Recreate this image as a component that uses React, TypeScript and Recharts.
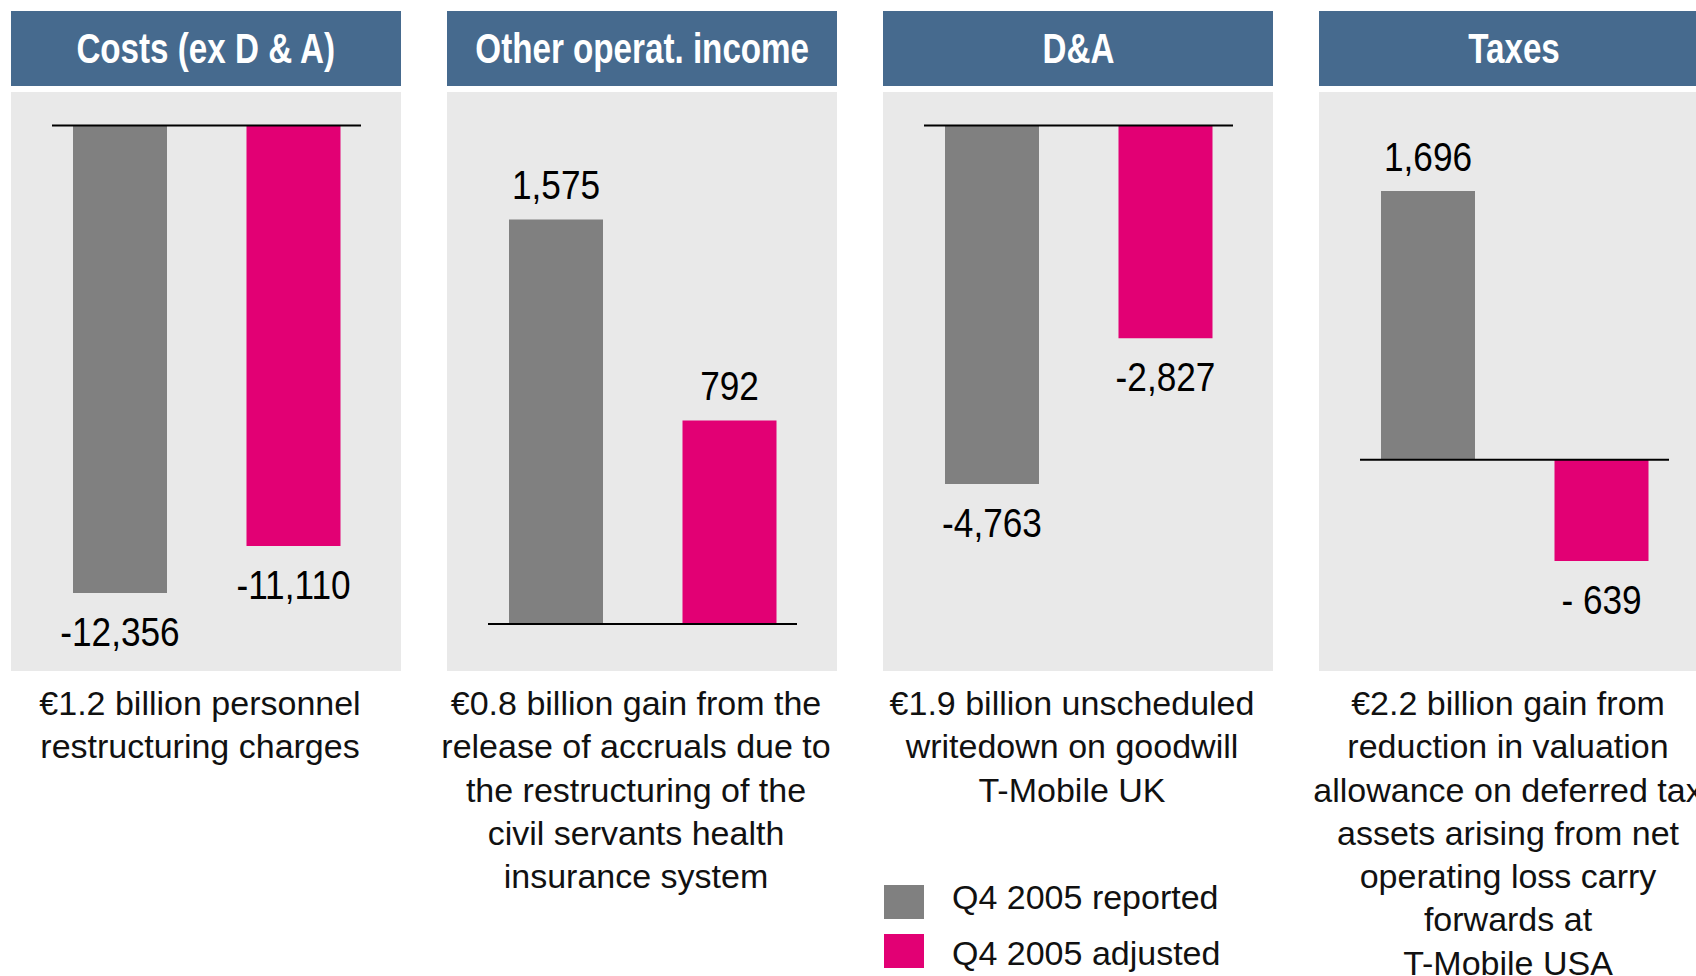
import React from "react";
import { BarChart, Bar, XAxis, YAxis, Cell, LabelList, ReferenceLine } from "recharts";

// ---------- data ----------
const panelTitles = ["Costs (ex D & A)", "Other operat. income", "D&A", "Taxes"];
const seriesNames = ["Q4 2005 reported", "Q4 2005 adjusted"];
const reportedValues = [-12356, 1575, -4763, 1696];
const adjustedValues = [-11110, 792, -2827, -639];
const reportedLabels = ["-12,356", "1,575", "-4,763", "1,696"];
const adjustedLabels = ["-11,110", "792", "-2,827", "- 639"];
const descriptions = [
  ["€1.2 billion personnel", "restructuring charges"],
  [
    "€0.8 billion gain from the",
    "release of accruals due to",
    "the restructuring of the",
    "civil servants health",
    "insurance system",
  ],
  ["€1.9 billion unscheduled", "writedown on goodwill", "T-Mobile UK"],
  [
    "€2.2 billion gain from",
    "reduction in valuation",
    "allowance on deferred tax",
    "assets arising from net",
    "operating loss carry",
    "forwards at",
    "T-Mobile USA",
  ],
];

// ---------- layout / style ----------
const COLORS = ["#808080", "#E20074"];
const HEADER_BG = "#466A8E";
const PANEL_BG = "#E9E9E9";
const PANEL_LEFTS = [11, 447, 883, 1319];
const PANEL_W = 390;
const PANEL_TOP = 92;
const PANEL_H = 579;
const yDomains: [number, number][] = [
  [-14000, 0],
  [0, 2000],
  [-7000, 0],
  [-1000, 2000],
];
const yMargins = [
  { top: 33.5, bottom: 15.7 },
  { top: 18.4, bottom: 47 },
  { top: 33.5, bottom: 18.5 },
  { top: 50.7, bottom: 52.8 },
];

const FONT = "'Liberation Sans', Arial, sans-serif";

function Panel({ i }: { i: number }) {
  const data = [
    { name: seriesNames[0], value: reportedValues[i], label: reportedLabels[i] },
    { name: seriesNames[1], value: adjustedValues[i], label: adjustedLabels[i] },
  ];
  const renderLabel = (p: any) => {
    const idx = p.index ?? 0;
    const d = data[idx];
    const y0 = Number(p.y);
    const h = Number(p.height);
    const positive = d.value >= 0;
    const end = positive ? Math.min(y0, y0 + h) : Math.max(y0, y0 + h);
    const cy = positive ? end - 34 : end + 39;
    const cx = Number(p.x) + Number(p.width) / 2;
    return (
      <g transform={`translate(${cx},${cy}) scale(0.88,1)`}>
        <text
          x={0}
          y={0}
          textAnchor="middle"
          dominantBaseline="central"
          fontSize={40}
          fontFamily={FONT}
          fill="#000"
        >
          {d.label}
        </text>
      </g>
    );
  };
  const zeroLine = (p: any) => (
    <line x1={p.x1 + 19} y1={p.y1} x2={p.x2 - 19} y2={p.y2} stroke="#000" strokeWidth={2} />
  );
  const left = PANEL_LEFTS[i];
  return (
    <>
      <div
        style={{
          position: "absolute",
          left,
          top: 11,
          width: PANEL_W,
          height: 75,
          background: HEADER_BG,
          color: "#fff",
          fontFamily: FONT,
          fontWeight: "bold",
          fontSize: 42,
          lineHeight: "75px",
          display: "flex",
          justifyContent: "center",
          whiteSpace: "nowrap",
        }}
      >
        <span style={{ display: "inline-block", flexShrink: 0, transform: "scaleX(0.79)" }}>
          {panelTitles[i]}
        </span>
      </div>
      <div
        style={{
          position: "absolute",
          left,
          top: PANEL_TOP,
          width: PANEL_W,
          height: PANEL_H,
          background: PANEL_BG,
        }}
      >
        <BarChart
          width={PANEL_W}
          height={PANEL_H}
          data={data}
          margin={{ top: yMargins[i].top, bottom: yMargins[i].bottom, left: 22, right: 21 }}
          barCategoryGap={0}
        >
          <XAxis dataKey="name" hide />
          <YAxis hide domain={yDomains[i]} allowDataOverflow />
          <Bar dataKey="value" barSize={94} isAnimationActive={false}>
            {data.map((_, k) => (
              <Cell key={k} fill={COLORS[k]} />
            ))}
            <LabelList dataKey="value" content={renderLabel} />
          </Bar>
          <ReferenceLine y={0} shape={zeroLine} ifOverflow="extendDomain" />
        </BarChart>
      </div>
      <div
        style={{
          position: "absolute",
          left: left - 62,
          top: 682,
          width: PANEL_W + 112,
          fontFamily: FONT,
          fontSize: 34,
          lineHeight: "43.3px",
          textAlign: "center",
          color: "#111",
        }}
      >
        {descriptions[i].map((line, k) => (
          <div key={k} style={{ whiteSpace: "nowrap" }}>
            {line}
          </div>
        ))}
      </div>
    </>
  );
}

function LegendBox() {
  const textTops = [875, 931];
  return (
    <>
      {seriesNames.map((n, k) => (
        <React.Fragment key={n}>
          <div
            style={{
              position: "absolute",
              left: 884,
              top: 885 + k * 49,
              width: 40,
              height: 34,
              background: COLORS[k],
            }}
          />
          <div
            style={{
              position: "absolute",
              left: 952,
              top: textTops[k],
              height: 44,
              lineHeight: "44px",
              fontFamily: FONT,
              fontSize: 34,
              color: "#111",
              whiteSpace: "nowrap",
            }}
          >
            {n}
          </div>
        </React.Fragment>
      ))}
    </>
  );
}

export default function App() {
  return (
    <div
      style={{
        position: "absolute",
        left: 0,
        top: 0,
        width: 1696,
        height: 976,
        overflow: "hidden",
        background: "#fff",
      }}
    >
      {panelTitles.map((_, i) => (
        <Panel key={i} i={i} />
      ))}
      <LegendBox />
    </div>
  );
}
